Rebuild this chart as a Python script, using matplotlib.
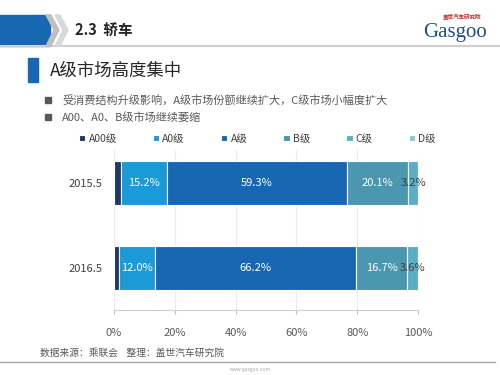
import matplotlib
matplotlib.use('Agg')
import matplotlib.pyplot as plt
from matplotlib.patches import Rectangle, Polygon
import numpy as np

plt.rcParams['font.family'] = ['Noto Sans CJK SC', 'DejaVu Sans']

# ---- data ----
periods = ['2015.5', '2016.5']
classes = ['A00级', 'A0级', 'A级', 'B级', 'C级', 'D级']
shares = {
    'A00级': [2.2, 1.5],
    'A0级': [15.2, 12.0],
    'A级': [59.3, 66.2],
    'B级': [20.1, 16.7],
    'C级': [3.2, 3.6],
    'D级': [0.0, 0.0],
}
colors = ['#1B3A66', '#1A9AD6', '#1767B3', '#4A97AF', '#5AAFC6', '#95C5D3']
xticks = [0, 20, 40, 60, 80, 100]

W, H = 500, 375
fig = plt.figure(figsize=(5, 3.75), dpi=100)

def fx(x):
    return x / W

def fy(y):
    return 1 - y / H

# ---- header ----
fig.patches.append(Rectangle((0, fy(46)), fx(50), 31 / H, transform=fig.transFigure,
                             color='#1767B3', zorder=1))
for dx, c in [(0, '#BFBFBF'), (9, '#D9D9D9')]:
    x0 = 50 + dx
    fig.patches.append(Polygon([(fx(x0 - 4), fy(15)), (fx(x0 + 1), fy(15)), (fx(x0 + 9), fy(30)),
                                (fx(x0 + 1), fy(46)), (fx(x0 - 4), fy(46)), (fx(x0 + 4), fy(30))],
                               closed=True, transform=fig.transFigure, color=c, zorder=2))
fig.text(fx(75), fy(31), '2.3  轿车', fontsize=10.5, fontweight='bold', color='#262626',
         va='center', ha='left')
fig.lines.append(plt.Line2D([0, 1], [fy(46), fy(46)], transform=fig.transFigure,
                            color='#D0D0D0', lw=1.5))
# logo
fig.text(fx(462), fy(17), '盖世汽车研究院', fontsize=4, color='#C0282D', ha='center',
         va='center', fontweight='bold')
fig.text(fx(455), fy(32), 'Gasgoo', fontsize=15, color='#1F4E8C', ha='center', va='center',
         family='Liberation Serif')

# title
fig.patches.append(Rectangle((fx(28), fy(82)), fx(10), 24 / H, transform=fig.transFigure,
                             color='#1767B3'))
fig.text(fx(50), fy(71), 'A级市场高度集中', fontsize=12.5, color='#262626', va='center', ha='left')

# bullets
bullets = ['受消费结构升级影响，A级市场份额继续扩大，C级市场小幅度扩大',
           'A00、A0、B级市场继续萎缩']
for i, b in enumerate(bullets):
    y = 100 + i * 17
    fig.patches.append(Rectangle((fx(45), fy(y + 3)), fx(6), 6 / H, transform=fig.transFigure,
                                 color='#595959'))
    fig.text(fx(62), fy(y), b, fontsize=8, color='#595959', va='center', ha='left')

# ---- chart ----
ax = fig.add_axes([fx(114), fy(310), fx(418 - 114), 160 / H])
ypos = np.arange(len(periods))
left = np.zeros(len(periods))
for cls, col in zip(classes, colors):
    vals = np.array(shares[cls])
    ax.barh(ypos, vals, left=left, height=0.52, color=col, edgecolor='white',
            linewidth=0.8, label=cls, zorder=3)
    for yy, v, l in zip(ypos, vals, left):
        if v >= 3:
            tc = 'white' if v > 5 else '#404040'
            ax.text(l + v / 2, yy, f'{v:.1f}%', color=tc, fontsize=8, ha='center',
                    va='center', zorder=4)
    left = left + vals

ax.set_xlim(0, 100)
ax.set_ylim(1.494, -0.388)
ax.set_yticks(ypos)
ax.set_yticklabels(periods)
ax.set_xticks(xticks)
ax.set_xticklabels([f'{t}%' for t in xticks])
ax.tick_params(axis='y', length=0, pad=8, labelsize=8, labelcolor='#404040')
ax.tick_params(axis='x', length=3, color='#BFBFBF', pad=10, labelsize=8, labelcolor='#595959')
for s in ['top', 'right', 'left']:
    ax.spines[s].set_visible(False)
ax.spines['bottom'].set_color('#D0D0D0')
ax.grid(axis='x', color='#EBEBEB', lw=0.8, zorder=0)
ax.set_axisbelow(True)

handles, labels = ax.get_legend_handles_labels()
fig.legend(handles, labels, loc='lower left', ncol=6, mode='expand',
           bbox_to_anchor=(fx(75), fy(148), fx(365), 14 / H), frameon=False,
           fontsize=7.5, handlelength=0.6, handleheight=0.6, handletextpad=0.3,
           borderaxespad=0, labelcolor='#404040')

# ---- footer ----
fig.text(fx(40), fy(353), '数据来源：乘联会    整理：盖世汽车研究院', fontsize=7, color='#595959',
         va='center', ha='left')
fig.lines.append(plt.Line2D([0, fx(495)], [fy(362), fy(362)], transform=fig.transFigure,
                            color='#A6A6A6', lw=1))
fig.text(0.5, fy(369), 'www.gasgoo.com', fontsize=3.5, color='#A6A6A6', ha='center', va='center')

fig.savefig('out.png', dpi=100, facecolor='white')
